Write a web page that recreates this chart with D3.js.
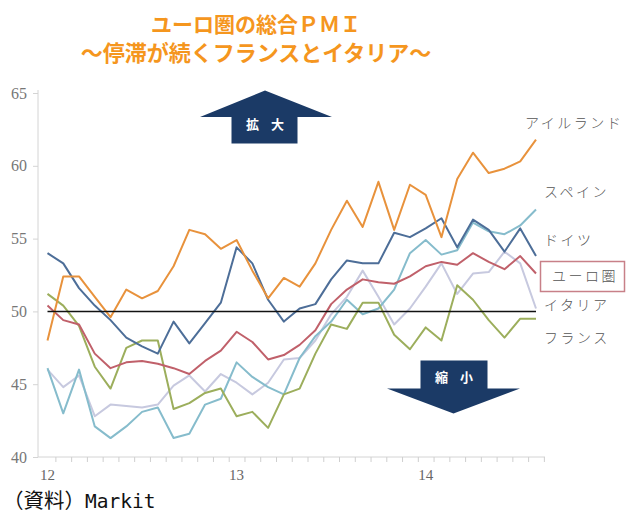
<!DOCTYPE html>
<html>
<head>
<meta charset="utf-8">
<script src="https://cdn.jsdelivr.net/npm/d3@7"></script>
<style>
  body { margin: 0; background: #fff; }
  svg { display: block; }
</style>
</head>
<body>
<svg id="chart" width="628" height="513"></svg>
<script>
// monthly composite PMI, Jan 2012 .. Aug 2014
const months = d3.range(32)
const yearTicks = [0, 12, 24]
const yearLabels = ['12', '13', '14']
const yTicks = [40, 45, 50, 55, 60, 65]

const ireland = [48.0, 52.4, 52.4, 51.0, 49.6, 51.5, 50.9, 51.4, 53.1, 55.6, 55.3, 54.3, 54.9, 52.8, 50.9, 52.3,
  51.7, 53.3, 55.6, 57.6, 55.8, 58.9, 55.6, 58.7, 58.0, 55.1, 59.1, 60.9, 59.5, 59.8, 60.3, 61.8]
const spain = [46.1, 43.0, 46.0, 42.1, 41.3, 42.1, 43.1, 43.4, 41.3, 41.6, 43.6, 44.0, 46.5, 45.5, 44.8, 44.3,
  46.8, 48.3, 49.3, 50.8, 49.8, 50.2, 51.5, 54.0, 54.9, 53.9, 54.2, 56.1, 55.5, 55.3, 55.9, 57.0]
const germany = [54.0, 53.3, 51.6, 50.4, 49.4, 48.2, 47.6, 47.1, 49.3, 47.8, 49.2, 50.6, 54.4, 53.3, 50.8, 49.3,
  50.2, 50.5, 52.2, 53.5, 53.3, 53.3, 55.4, 55.1, 55.7, 56.4, 54.4, 56.3, 55.6, 54.1, 55.7, 53.8]
const euro = [50.4, 49.4, 49.1, 47.1, 46.1, 46.5, 46.6, 46.4, 46.1, 45.7, 46.6, 47.3, 48.6, 47.9, 46.7, 47.0,
  47.7, 48.7, 50.5, 51.5, 52.2, 52.0, 51.9, 52.4, 53.1, 53.4, 53.2, 54.0, 53.4, 52.9, 53.8, 52.6]
const italy = [46.0, 44.8, 45.6, 42.8, 43.6, 43.5, 43.4, 43.6, 44.9, 45.6, 44.5, 45.7, 45.1, 44.3, 45.1, 46.7,
  46.8, 48.0, 49.8, 51.0, 52.8, 51.0, 49.1, 50.2, 51.7, 53.3, 51.2, 52.6, 52.7, 54.1, 53.3, 50.2]
const france = [51.2, 50.4, 49.0, 46.2, 44.7, 47.5, 48.0, 48.0, 43.3, 43.7, 44.4, 44.7, 42.8, 43.1, 42.0, 44.3,
  44.7, 47.1, 49.1, 48.8, 50.6, 50.6, 48.4, 47.4, 48.9, 48.0, 51.8, 50.8, 49.4, 48.2, 49.5, 49.5]

const seriesNames = ['イタリア', 'スペイン', 'フランス', 'ユーロ圏', 'ドイツ', 'アイルランド']
const seriesValues = [italy, spain, france, euro, germany, ireland]
const seriesColors = ['#c7c9df', '#86bccc', '#9cae5c', '#c0606a', '#4d6e98', '#e8923c']

const svg = d3.select('#chart')
const x = d3.scaleLinear().domain([0, 31]).range([47.5, 536])
const y = d3.scaleLinear().domain([40, 65]).range([457, 93])

// title
const title = svg.append('g')
  .attr('font-family', '"Noto Sans CJK JP", sans-serif')
  .attr('font-weight', 'bold')
  .attr('font-size', 21)
  .attr('fill', '#f5961e')
  .attr('text-anchor', 'middle')
title.append('text').attr('x', 256).attr('y', 32).text('ユーロ圏の総合ＰＭＩ')
title.append('text').attr('x', 256).attr('y', 61).attr('font-size', 22).text('～停滞が続くフランスとイタリア～')

// y axis
const yAxis = svg.append('g')
  .attr('transform', 'translate(38,0)')
  .call(d3.axisLeft(y).tickValues(yTicks).tickSize(5).tickPadding(6))
yAxis.select('.domain').attr('stroke', '#d4d4d4').attr('d', 'M0,90V457')
yAxis.selectAll('.tick line').attr('stroke', '#d4d4d4')
yAxis.selectAll('.tick text')
  .attr('font-family', '"Liberation Serif", serif')
  .attr('font-size', 16)
  .attr('fill', '#777')

// x axis with monthly ticks
const xAxis = svg.append('g')
  .attr('transform', 'translate(0,457)')
  .call(d3.axisBottom(x).tickValues(months.map(m => m + 0.5)).tickSize(5).tickFormat(''))
xAxis.select('.domain').attr('stroke', '#d4d4d4').attr('d', 'M38,0H545')
xAxis.selectAll('.tick line').attr('stroke', '#cfcfcf')

svg.append('g')
  .selectAll('text')
  .data(yearTicks)
  .join('text')
  .attr('x', d => x(d))
  .attr('y', 480)
  .attr('text-anchor', 'middle')
  .attr('font-family', '"Liberation Serif", serif')
  .attr('font-size', 15)
  .attr('fill', '#666')
  .text((d, i) => yearLabels[i])

// arrows
const arrowText = g => g
  .attr('text-anchor', 'middle')
  .attr('font-family', '"Noto Sans CJK JP", sans-serif')
  .attr('font-weight', 'bold')
  .attr('font-size', 13)
  .attr('letter-spacing', 12)
  .attr('fill', '#fff')
const up = svg.append('g')
up.append('path')
  .attr('d', 'M265,90.5L332,117L297.5,117L297.5,143.5L231.5,143.5L231.5,117L200,117Z')
  .attr('fill', '#1b3a66')
up.append('text').attr('x', 271).attr('y', 129).text('拡大').call(arrowText)
const down = svg.append('g')
down.append('path')
  .attr('d', 'M420.5,360.5L487.5,360.5L487.5,388.5L520,388.5L453.5,413.5L387,388.5L420.5,388.5Z')
  .attr('fill', '#1b3a66')
down.append('text').attr('x', 460).attr('y', 382).text('縮小').call(arrowText)

// lines
const line = d3.line().x((d, i) => x(i)).y(d => y(d))
svg.append('g')
  .selectAll('path')
  .data(seriesValues)
  .join('path')
  .attr('d', d => line(d))
  .attr('fill', 'none')
  .attr('stroke', (d, i) => seriesColors[i])
  .attr('stroke-width', 2)
  .attr('stroke-linejoin', 'round')

// 50 line
svg.append('line')
  .attr('x1', x(0)).attr('x2', x(31))
  .attr('y1', y(50)).attr('y2', y(50))
  .attr('stroke', '#111')
  .attr('stroke-width', 1.5)

// series labels
const labelY = { 'アイルランド': 123, 'スペイン': 192, 'ドイツ': 240, 'ユーロ圏': 276, 'イタリア': 305, 'フランス': 338 }
const labelX = { 'アイルランド': 525, 'ユーロ圏': 552 }
svg.append('rect')
  .attr('x', 540.5).attr('y', 261.5).attr('width', 84).attr('height', 30)
  .attr('fill', '#fff').attr('stroke', '#c88088').attr('stroke-width', 1.5)
svg.append('g')
  .selectAll('text')
  .data(seriesNames)
  .join('text')
  .attr('x', d => labelX[d] || 544)
  .attr('y', d => labelY[d])
  .attr('dy', '0.35em')
  .attr('font-family', '"Noto Sans CJK JP", sans-serif')
  .attr('font-weight', 300)
  .attr('font-size', 14)
  .attr('letter-spacing', 2.5)
  .attr('fill', '#555')
  .text(d => d)

// source
const src = svg.append('text')
  .attr('x', 3).attr('y', 508)
  .attr('font-family', '"Noto Sans CJK JP", sans-serif')
  .attr('font-size', 20.5)
  .attr('fill', '#111')
src.append('tspan').text('（資料）')
src.append('tspan').attr('font-family', '"DejaVu Sans Mono", monospace').attr('font-size', 19.5).text('Markit')
</script>
</body>
</html>
